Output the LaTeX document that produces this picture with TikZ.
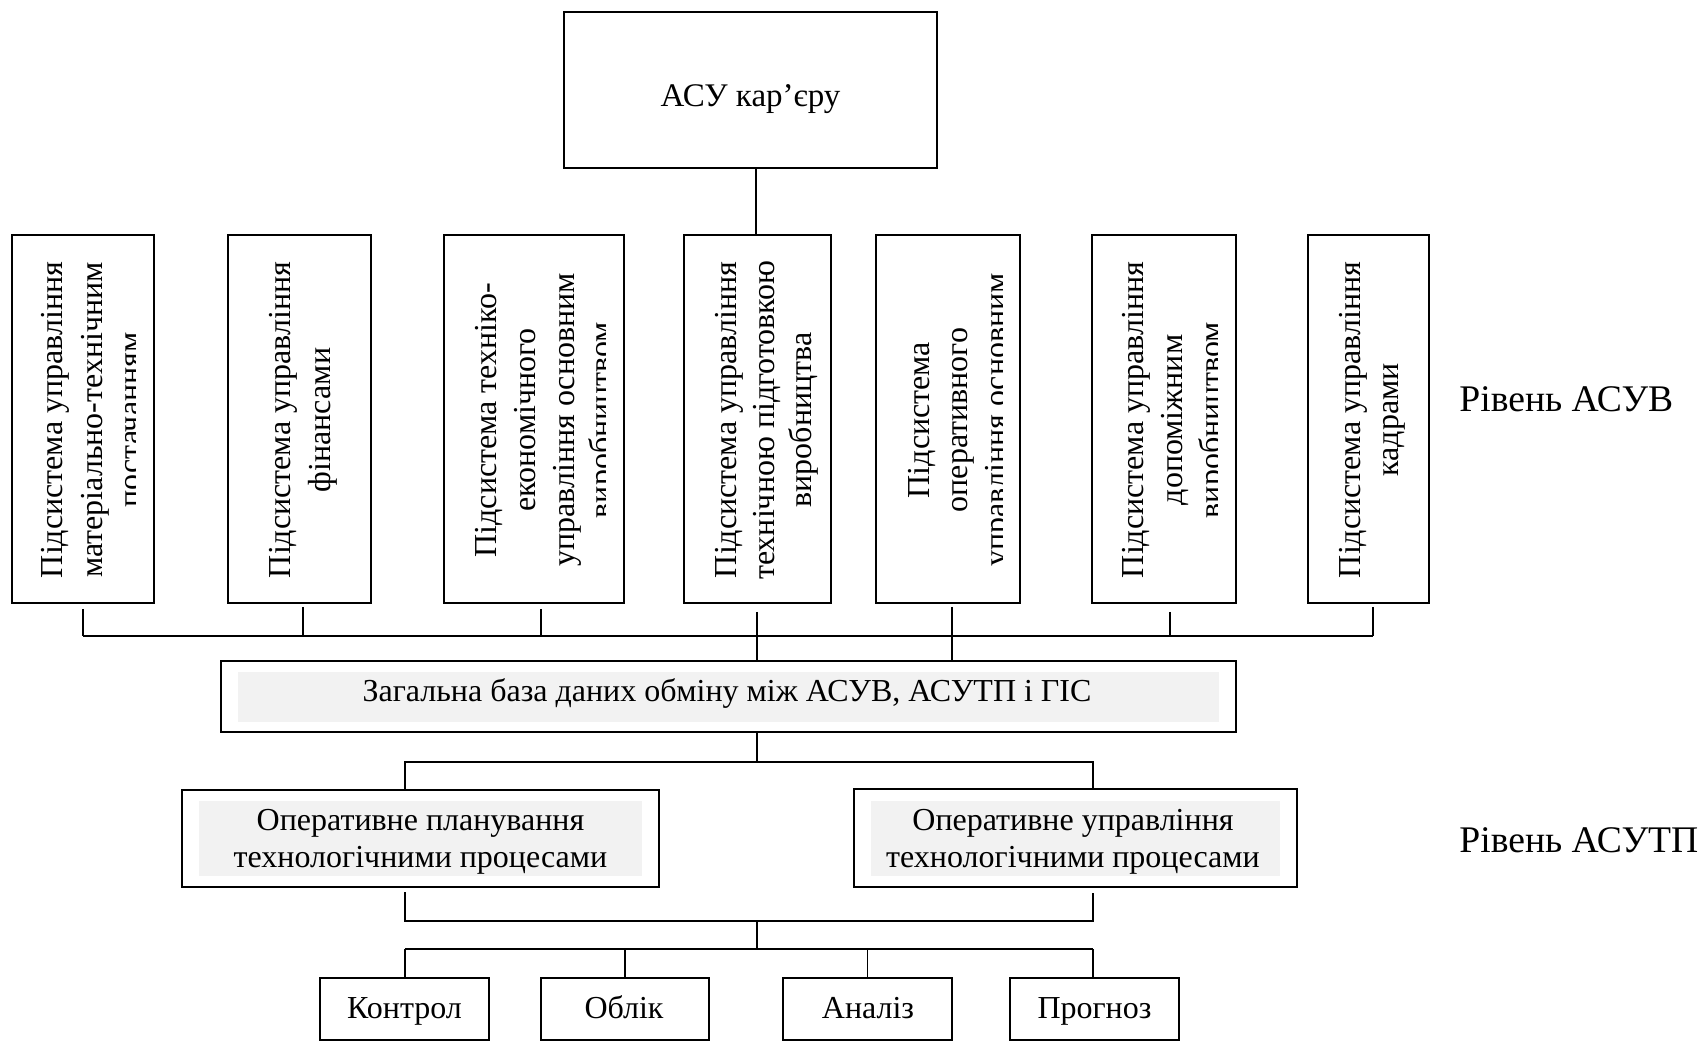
\documentclass[tikz,border=0pt]{standalone}
\usepackage{fontspec}
\setmainfont{Liberation Serif}
\usetikzlibrary{fit}
\definecolor{panelgray}{HTML}{F2F2F2}
\tikzset{
  box/.style={draw, line width=1pt, inner sep=0pt},
  panel/.style={fill=panelgray, draw=none, inner sep=0pt},
  wire/.style={line width=0.6pt},
  txt/.style={font=\fontsize{16}{19}\selectfont, inner sep=0pt},
  vtxt/.style={txt, rotate=90, anchor=base},
  level/.style={font=\fontsize{18.8}{22}\selectfont, inner sep=0pt, anchor=base west},
}
\begin{document}
\begin{tikzpicture}[x=0.5pt,y=-0.5pt]
\fill[white] (0,0) rectangle (1703,1042);
\useasboundingbox (0,0) rectangle (1703,1042);

% ---- top level
\node[box, fit={(564,12)(937,168)}] (top) {};
\node[txt, font=\fontsize{16.5}{20}\selectfont, anchor=base] (topt) at (750.5,107) {АСУ кар’єру};

% ---- subsystems (vertical text)
\node[box, fit={(12,235)(154,603)}] (b1) {};
\node[box, fit={(228,235)(371,603)}] (b2) {};
\node[box, fit={(444,235)(624,603)}] (b3) {};
\node[box, fit={(684,235)(831,603)}] (b4) {};
\node[box, fit={(876,235)(1020,603)}] (b5) {};
\node[box, fit={(1092,235)(1236,603)}] (b6) {};
\node[box, fit={(1308,235)(1429,603)}] (b7) {};

\begin{scope}
  \clip (12,235) rectangle (135,603);
  \node[vtxt] (t11) at (62,420) {Підсистема управління};
  \node[vtxt] (t12) at (102,420) {матеріально-технічним};
  \node[vtxt] (t13) at (140,420) {постачанням};
\end{scope}

\node[vtxt] (t21) at (290,420) {Підсистема управління};
\node[vtxt] (t22) at (330,420) {фінансами};

\begin{scope}
  \clip (444,235) rectangle (605,603);
  \node[vtxt] (t31) at (496,420) {Підсистема техніко-};
  \node[vtxt] (t32) at (535,420) {економічного};
  \node[vtxt] (t33) at (574,420) {управління основним};
  \node[vtxt] (t34) at (611,420) {виробництвом};
\end{scope}

\node[vtxt] (t41) at (736,420) {Підсистема управління};
\node[vtxt] (t42) at (774,420) {технічною підготовкою};
\node[vtxt] (t43) at (811,420) {виробництва};

\begin{scope}
  \clip (876,235) rectangle (1002,603);
  \node[vtxt] (t51) at (929,420) {Підсистема};
  \node[vtxt] (t52) at (967,420) {оперативного};
  \node[vtxt] (t53) at (1006,420) {управління основним};
\end{scope}

\begin{scope}
  \clip (1092,235) rectangle (1217,603);
  \node[vtxt] (t61) at (1143,420) {Підсистема управління};
  \node[vtxt] (t62) at (1182,420) {допоміжним};
  \node[vtxt] (t63) at (1221,420) {виробництвом};
\end{scope}

\node[vtxt] (t71) at (1360,420) {Підсистема управління};
\node[vtxt] (t72) at (1398,420) {кадрами};

% ---- common database
\node[box, fit={(221,661)(1236,732)}] (db) {};
\node[panel, fit={(238,672)(1219,722)}] (dbp) {};
\node[txt, anchor=base] (dbt) at (727,702) {Загальна база даних обміну між АСУВ, АСУТП і ГІС};

% ---- operative blocks
\node[box, fit={(182,790)(659,887)}] (op) {};
\node[panel, fit={(199,801)(642,876)}] (opp) {};
\node[txt, anchor=base] (opt1) at (420.5,830) {Оперативне планування};
\node[txt, anchor=base] (opt2) at (420.5,867) {технологічними процесами};

\node[box, fit={(854,789)(1297,887)}] (ou) {};
\node[panel, fit={(871,801)(1280,876)}] (oup) {};
\node[txt, anchor=base] (out1) at (1073,830) {Оперативне управління};
\node[txt, anchor=base] (out2) at (1073,867) {технологічними процесами};

% ---- functions
\node[box, fit={(320,978)(489,1040)}] (f1) {};
\node[box, fit={(541,978)(709,1040)}] (f2) {};
\node[box, fit={(783,978)(952,1040)}] (f3) {};
\node[box, fit={(1010,978)(1179,1040)}] (f4) {};
\node[txt, anchor=base] (ft1) at (404.5,1018) {Контрол};
\node[txt, anchor=base] (ft2) at (624,1018) {Облік};
\node[txt, anchor=base] (ft3) at (868,1018) {Аналіз};
\node[txt, anchor=base] (ft4) at (1094.5,1018) {Прогноз};

% ---- level labels
\node[level] (lv1) at (1459,412) {Рівень АСУВ};
\node[level] (lv2) at (1459,852) {Рівень АСУТП};

% ---- connectors
\coordinate (jt) at (756,200);
\draw[wire] (top.south -| jt) -- (b4.north -| jt);

\coordinate (s1) at (83,636);
\coordinate (s2) at (303,636);
\coordinate (s3) at (541,636);
\coordinate (s4) at (757,636);
\coordinate (s5) at (952,636);
\coordinate (s6) at (1170,636);
\coordinate (s7) at (1373,636);
\draw[wire] (s1) -- (s7);
\draw[wire] ([yshift=-2.5pt]b1.south -| s1) -- (s1);
\draw[wire] ([yshift=-1.5pt]b2.south -| s2) -- (s2);
\draw[wire] ([yshift=-2.5pt]b3.south -| s3) -- (s3);
\draw[wire] ([yshift=-4pt]b4.south -| s4) -- (db.north -| s4);
\draw[wire] ([yshift=-1.5pt]b5.south -| s5) -- (db.north -| s5);
\draw[wire] ([yshift=-4pt]b6.south -| s6) -- (s6);
\draw[wire] ([yshift=-1.5pt]b7.south -| s7) -- (s7);

\coordinate (u0) at (757,762);
\coordinate (uL) at (405,762);
\coordinate (uR) at (1093,762);
\draw[wire] (db.south -| u0) -- (u0);
\draw[wire] (op.north -| uL) -- (uL) -- (uR) -- (ou.north -| uR);

\coordinate (m0) at (757,921);
\coordinate (mL) at (405,921);
\coordinate (mR) at (1093,921);
\draw[wire] ([yshift=-2pt]op.south -| mL) -- (mL) -- (mR) -- ([yshift=-2.5pt]ou.south -| mR);

\coordinate (n0) at (757,949);
\coordinate (nL) at (405,949);
\coordinate (nR) at (1093,949);
\draw[wire] (m0) -- (n0);
\draw[wire] (nL) -- (nR);
\draw[wire] (nL) -- (f1.north -| nL);
\draw[wire] (n0 -| f2.north) -- (f2.north);
\draw[wire] (n0 -| f3.north) -- (f3.north);
\draw[wire] (nR) -- (f4.north -| nR);
\end{tikzpicture}
\end{document}
